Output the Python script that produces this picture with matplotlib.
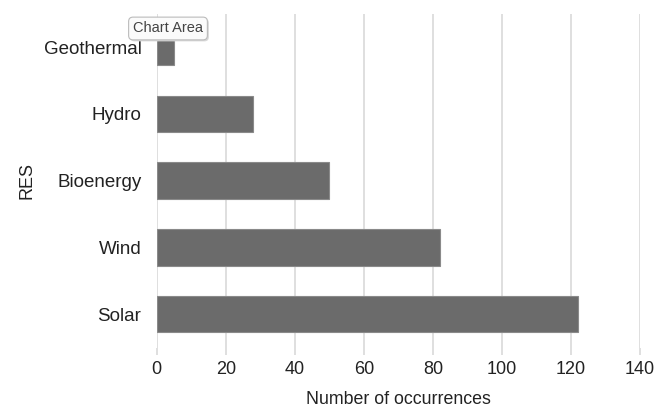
import matplotlib.pyplot as plt

plt.rcParams['font.family'] = ['Liberation Sans', 'DejaVu Sans']

res = ['Solar', 'Wind', 'Bioenergy', 'Hydro', 'Geothermal']
occurrences = [122, 82, 50, 28, 5]
x_ticks = [0, 20, 40, 60, 80, 100, 120, 140]

fig = plt.figure(figsize=(6.71, 4.11), dpi=100)
ax = fig.add_axes([0.2335, 0.1545, 0.7205, 0.812])

ax.barh(range(len(res)), occurrences, height=0.55, color='#6b6b6b',
        edgecolor='#8a8a8a', linewidth=0.8, zorder=3)

ax.set_xlim(0, 140)
ax.set_ylim(-0.5, 4.5)
ax.set_xticks(x_ticks)
ax.set_yticks(range(len(res)))
ax.set_yticklabels(res)
ax.grid(axis='x', color='#d9d9d9', linewidth=1.2, zorder=0)
for s in ax.spines.values():
    s.set_visible(False)
ax.tick_params(axis='x', length=5, width=1.2, color='#d9d9d9', pad=5,
               labelsize=13, labelcolor='#222222')
ax.tick_params(axis='y', length=0, pad=11, labelsize=13.5, labelcolor='#222222')

ax.set_xlabel('Number of occurrences', fontsize=12.8, color='#222222', labelpad=9)
ax.set_ylabel('RES', fontsize=13, color='#222222', labelpad=6)

# tooltip captured in the screenshot (with a faint shadow)
fig.text(134.5 / 671, 1 - 30 / 411, 'Chart Area', fontsize=10.5, color='#a0a0a0',
         va='center', ha='left', alpha=0.0,
         bbox=dict(boxstyle='round,pad=0.3', fc='#d8d8d8', ec='none'))
fig.text(133 / 671, 1 - 28.5 / 411, 'Chart Area', fontsize=10.5, color='#444444',
         va='center', ha='left',
         bbox=dict(boxstyle='round,pad=0.3', fc='#fbfbfb', ec='#bbbbbb', lw=0.8))

fig.savefig('out.png', dpi=100)
